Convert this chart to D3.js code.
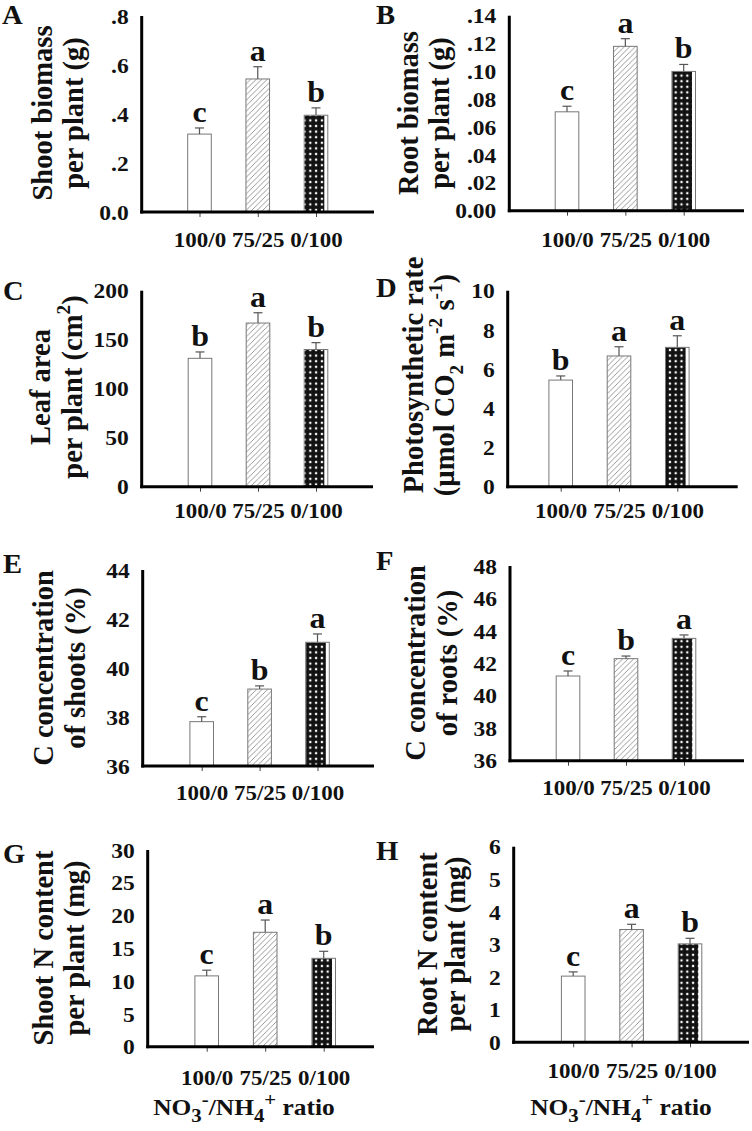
<!DOCTYPE html>
<html><head><meta charset="utf-8">
<script src="https://cdn.jsdelivr.net/npm/d3@7"></script>
<style>body{margin:0;background:#fff} svg{display:block}</style>
</head><body>
<svg id="c" width="752" height="1131"></svg>
<script>
// ---------------- DATA ----------------
const categories = ["100/0", "75/25", "0/100"];

// A: shoot biomass per plant (g)
const shootBiomass = [0.318, 0.543, 0.395];
const shootBiomassSE = [0.025, 0.050, 0.030];
const shootBiomassLetters = ["c", "a", "b"];
const shootBiomassTicks = [0, 0.2, 0.4, 0.6, 0.8];
const shootBiomassTickLabels = ["0.0", ".2", ".4", ".6", ".8"];

// B: root biomass per plant (g)
const rootBiomass = [0.071, 0.118, 0.100];
const rootBiomassSE = [0.004, 0.0055, 0.005];
const rootBiomassLetters = ["c", "a", "b"];
const rootBiomassTicks = [0, 0.02, 0.04, 0.06, 0.08, 0.10, 0.12, 0.14];
const rootBiomassTickLabels = ["0.00", ".02", ".04", ".06", ".08", ".10", ".12", ".14"];

// C: leaf area per plant (cm2)
const leafArea = [131, 167, 140];
const leafAreaSE = [6.5, 10.5, 7];
const leafAreaLetters = ["b", "a", "b"];
const leafAreaTicks = [0, 50, 100, 150, 200];
const leafAreaTickLabels = ["0", "50", "100", "150", "200"];

// D: photosynthetic rate
const photoRate = [5.44, 6.67, 7.11];
const photoRateSE = [0.21, 0.47, 0.59];
const photoRateLetters = ["b", "a", "a"];
const photoRateTicks = [0, 2, 4, 6, 8, 10];
const photoRateTickLabels = ["0", "2", "4", "6", "8", "10"];

// E: C concentration of shoots (%)
const shootC = [37.81, 39.14, 41.05];
const shootCSE = [0.20, 0.13, 0.34];
const shootCLetters = ["c", "b", "a"];
const shootCTicks = [36, 38, 40, 42, 44];
const shootCTickLabels = ["36", "38", "40", "42", "44"];

// F: C concentration of roots (%)
const rootC = [41.22, 42.29, 43.54];
const rootCSE = [0.31, 0.16, 0.21];
const rootCLetters = ["c", "b", "a"];
const rootCTicks = [36, 38, 40, 42, 44, 46, 48];
const rootCTickLabels = ["36", "38", "40", "42", "44", "46", "48"];

// G: shoot N content per plant (mg)
const shootN = [10.8, 17.45, 13.48];
const shootNSE = [0.87, 1.87, 1.07];
const shootNLetters = ["c", "a", "b"];
const shootNTicks = [0, 5, 10, 15, 20, 25, 30];
const shootNTickLabels = ["0", "5", "10", "15", "20", "25", "30"];

// H: root N content per plant (mg)
const rootN = [2.03, 3.46, 3.02];
const rootNSE = [0.13, 0.16, 0.17];
const rootNLetters = ["c", "a", "b"];
const rootNTicks = [0, 1, 2, 3, 4, 5, 6];
const rootNTickLabels = ["0", "1", "2", "3", "4", "5", "6"];

// ---------------- LAYOUT ----------------
const FONT = "'Liberation Serif','Times New Roman',Times,serif";
const SX = 1.12; // horizontal stretch of the original figure text

const panels = [
  { id: "A", vals: shootBiomass, se: shootBiomassSE, letters: shootBiomassLetters,
    ticks: shootBiomassTicks, tickLabels: shootBiomassTickLabels, domain: [0, 0.8],
    title: [["Shoot biomass"], ["per plant (g)"]],
    L: { ax: 141.7, top: 16, base: 212, end: 374, c1: 199.5, c3: 316, lx: 2, ly: 24, tx: [52, 83], tcy: [113, 113], tickY: 247 } },
  { id: "B", vals: rootBiomass, se: rootBiomassSE, letters: rootBiomassLetters,
    ticks: rootBiomassTicks, tickLabels: rootBiomassTickLabels, domain: [0, 0.14],
    title: [["Root biomass"], ["per plant (g)"]],
    L: { ax: 509.3, top: 15.7, base: 210.7, end: 744, c1: 567, c3: 683.7, lx: 376, ly: 24, tx: [418, 449], tcy: [113, 113], tickY: 246.5 } },
  { id: "C", vals: leafArea, se: leafAreaSE, letters: leafAreaLetters,
    ticks: leafAreaTicks, tickLabels: leafAreaTickLabels, domain: [0, 200],
    title: [["Leaf area"], ["per plant (cm", { sup: "2" }, ")"]],
    L: { ax: 141.7, top: 290.7, base: 486.7, end: 373, c1: 200, c3: 316, lx: 3, ly: 300, tx: [50, 82], tcy: [387, 387], tickY: 518 } },
  { id: "D", vals: photoRate, se: photoRateSE, letters: photoRateLetters,
    ticks: photoRateTicks, tickLabels: photoRateTickLabels, domain: [0, 10],
    title: [["Photosynthetic rate"], ["(\u00b5mol CO", { sub: "2" }, " m", { sup: "-2" }, " s", { sup: "-1" }, ")"]],
    L: { ax: 507.7, top: 290.7, base: 486.7, end: 737.7, c1: 560.7, c3: 677.3, lx: 376, ly: 297, tx: [423, 454], tcy: [375, 385], tickY: 518 } },
  { id: "E", vals: shootC, se: shootCSE, letters: shootCLetters,
    ticks: shootCTicks, tickLabels: shootCTickLabels, domain: [36, 44],
    title: [["C concentration"], ["of shoots (%)"]],
    L: { ax: 142.7, top: 570, base: 766, end: 374, c1: 201.7, c3: 317.5, lx: 3, ly: 573, tx: [53, 85], tcy: [668, 668], tickY: 800 } },
  { id: "F", vals: rootC, se: rootCSE, letters: rootCLetters,
    ticks: rootCTicks, tickLabels: rootCTickLabels, domain: [36, 48],
    title: [["C concentration"], ["of roots (%)"]],
    L: { ax: 510, top: 566, base: 760.7, end: 744, c1: 568, c3: 684, lx: 376, ly: 570, tx: [425, 457], tcy: [663, 663], tickY: 795 } },
  { id: "G", vals: shootN, se: shootNSE, letters: shootNLetters,
    ticks: shootNTicks, tickLabels: shootNTickLabels, domain: [0, 30],
    title: [["Shoot N content"], ["per plant (mg)"]],
    L: { ax: 147.7, top: 850, base: 1046.7, end: 374, c1: 206.7, c3: 323.7, lx: 3, ly: 863, tx: [53, 84], tcy: [948, 948], tickY: 1085, xl: 244, xly: 1115 } },
  { id: "H", vals: rootN, se: rootNSE, letters: rootNLetters,
    ticks: rootNTicks, tickLabels: rootNTickLabels, domain: [0, 6],
    title: [["Root N content"], ["per plant (mg)"]],
    L: { ax: 513.7, top: 846.7, base: 1042.3, end: 749, c1: 573.2, c3: 690, lx: 376, ly: 860, tx: [437, 465], tcy: [944, 944], tickY: 1078, xl: 621, xly: 1115 } }
];

const xLabel = ["NO", { sub: "3" }, { sup: "-" }, "/NH", { sub: "4" }, { sup: "+" }, " ratio"];

// ---------------- DRAW ----------------
const svg = d3.select("#c");
const defs = svg.append("defs");

const hatch = defs.append("pattern").attr("id", "hatch")
  .attr("patternUnits", "userSpaceOnUse").attr("width", 5.5).attr("height", 5.5);
hatch.append("path").attr("d", "M-1,1 L1,-1 M0,5.5 L5.5,0 M4.5,6.5 L6.5,4.5")
  .attr("stroke", "#808080").attr("stroke-width", 0.8);

const dots = defs.append("pattern").attr("id", "dots")
  .attr("patternUnits", "userSpaceOnUse").attr("width", 5.8).attr("height", 5.6);
dots.append("rect").attr("width", 5.8).attr("height", 5.6).attr("fill", "#111");
dots.append("rect").attr("x", 1.8).attr("y", 1.7).attr("width", 2.2).attr("height", 2.2).attr("fill", "#fff");

function rich(textSel, segs, size, k) {
  let cur = 0;
  segs.forEach(s => {
    let str, target, fs;
    if (typeof s === "string") { str = s; target = 0; fs = size; }
    else if (s.sup !== undefined) { str = s.sup; target = -0.42 * size; fs = size * k; }
    else { str = s.sub; target = 0.3 * size; fs = size * k; }
    textSel.append("tspan").attr("dy", target - cur).attr("font-size", fs).text(str);
    cur = target;
  });
}

const BW = 23.6;

panels.forEach(p => {
  const L = p.L;
  const g = svg.append("g").attr("font-family", FONT).attr("font-weight", "bold").attr("fill", "#111");
  const y = d3.scaleLinear().domain(p.domain).range([L.base, L.top]);
  const x = d3.scalePoint().domain(categories).range([L.c1, L.c3]);

  // bars
  categories.forEach((cat, i) => {
    const v = p.vals[i], cx = x(cat), top = y(v), h = L.base - top;
    if (i === 2) {
      g.append("rect").attr("x", cx - BW / 2).attr("y", top).attr("width", BW).attr("height", h)
        .attr("fill", "#fff").attr("stroke", "#777").attr("stroke-width", 1);
      g.append("rect").attr("x", cx - BW / 2 + 0.5).attr("y", top + 0.5).attr("width", BW - 4).attr("height", h - 0.5)
        .attr("fill", "url(#dots)");
    } else {
      g.append("rect").attr("x", cx - BW / 2).attr("y", top).attr("width", BW).attr("height", h)
        .attr("fill", i === 1 ? "url(#hatch)" : "#fff").attr("stroke", "#777").attr("stroke-width", 1);
    }
    // error bar
    const ey = y(v + p.se[i]);
    g.append("line").attr("x1", cx).attr("x2", cx).attr("y1", top).attr("y2", ey)
      .attr("stroke", "#555").attr("stroke-width", 1.2);
    g.append("line").attr("x1", cx - 4.5).attr("x2", cx + 4.5).attr("y1", ey).attr("y2", ey)
      .attr("stroke", "#555").attr("stroke-width", 1.2);
    // significance letter
    g.append("text").attr("transform", `translate(${cx},${ey - 6}) scale(1.1,1)`)
      .attr("text-anchor", "middle").attr("font-size", 29).text(p.letters[i]);
  });

  // y axis
  const yAxis = d3.axisLeft(y).tickValues(p.ticks).tickFormat((d, i) => p.tickLabels[i])
    .tickSize(0).tickPadding(0);
  const ya = g.append("g").attr("transform", `translate(${L.ax},0)`).call(yAxis);
  ya.select(".domain").remove();
  ya.selectAll(".tick text")
    .attr("x", 0).attr("dy", "0.34em")
    .attr("transform", `translate(-13,0) scale(${SX},1)`)
    .attr("font-family", FONT).attr("font-weight", "bold").attr("font-size", 21).attr("fill", "#111");
  g.append("line").attr("x1", L.ax).attr("x2", L.ax).attr("y1", L.top).attr("y2", L.base + 1.5)
    .attr("stroke", "#000").attr("stroke-width", 3);

  // x axis
  const xAxis = d3.axisBottom(x).tickSize(5).tickPadding(0);
  const xa = g.append("g").attr("transform", `translate(0,${L.base})`).call(xAxis);
  xa.select(".domain").remove();
  xa.selectAll(".tick line").attr("stroke", "#444").attr("stroke-width", 1);
  xa.selectAll(".tick text")
    .attr("y", 0).attr("dy", 0)
    .attr("transform", `translate(0,${L.tickY - L.base}) scale(${SX},1)`)
    .attr("font-family", FONT).attr("font-weight", "bold").attr("font-size", 20.5).attr("fill", "#111");
  g.append("line").attr("x1", L.ax - 1.5).attr("x2", L.end).attr("y1", L.base).attr("y2", L.base)
    .attr("stroke", "#000").attr("stroke-width", 3);

  // panel letter
  g.append("text").attr("transform", `translate(${L.lx},${L.ly}) scale(1.08,1)`)
    .attr("font-size", 26.5).text(p.id);

  // y title
  p.title.forEach((segs, k) => {
    const t = g.append("text").attr("transform", `translate(${L.tx[k]},${L.tcy[k]}) rotate(-90)`)
      .attr("text-anchor", "middle").attr("font-size", 28.5);
    rich(t, segs, 28.5, 0.68);
  });

  // x title
  if (L.xl !== undefined) {
    const t = g.append("text").attr("transform", `translate(${L.xl},${L.xly}) scale(1.13,1)`)
      .attr("text-anchor", "middle").attr("font-size", 22.5);
    rich(t, xLabel, 22.5, 0.82);
  }
});
</script>
</body></html>
